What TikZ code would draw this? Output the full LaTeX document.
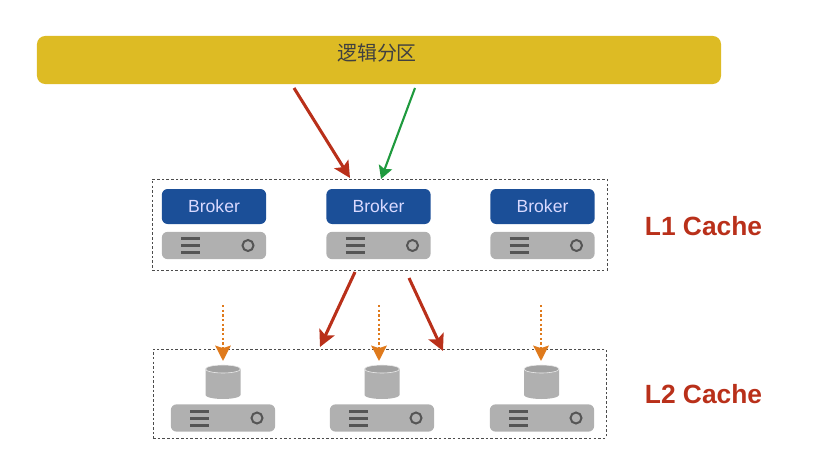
\documentclass[tikz,border=0pt]{standalone}
\usepackage{fontspec}
\setmainfont{Liberation Sans}
\newfontfamily\cjk{Noto Sans CJK SC}
\usepackage{xcolor}
\usepackage{tikz}
\usetikzlibrary{arrows.meta}
\definecolor{barYellow}{HTML}{DDBB24}
\definecolor{brokerBlue}{HTML}{1B4F98}
\definecolor{srvGray}{HTML}{B0B0B0}
\definecolor{iconGray}{HTML}{555555}
\definecolor{arrowRed}{HTML}{B9301A}
\definecolor{arrowGreen}{HTML}{1F9A3E}
\definecolor{arrowOrange}{HTML}{DF7A1C}

\begin{document}
\begin{tikzpicture}[
        x=0.03cm, y=-0.03cm,
        partbar/.style={fill=barYellow, rounded corners=7pt, minimum width=20.52cm, minimum height=1.44cm, inner sep=0pt},
        partname/.style={inner sep=0pt, font=\cjk\fontsize{17}{19}\selectfont, text=black!75},
        group/.style={draw=black!70, dash pattern=on 2.2pt off 1.8pt, line width=0.7pt, inner sep=0pt},
        broker/.style={fill=brokerBlue, rounded corners=5pt, minimum width=3.13cm, minimum height=1.05cm, inner sep=0pt, text=white!85!blue, font=\fontsize{15}{17}\selectfont},
        server/.style={fill=srvGray, rounded corners=5pt, minimum width=3.13cm, minimum height=0.82cm, inner sep=0pt},
        lamp/.style={circle, draw=iconGray, line width=1.7pt, fill=srvGray, minimum size=0.33cm, inner sep=0pt},
        disk/.style={fill=srvGray},
        disktop/.style={fill=srvGray!92!black, draw=white!85!gray, line width=0.5pt},
        bars/.style={iconGray, line width=2.4pt},
        level/.style={text=arrowRed, font=\bfseries\fontsize{22.5}{25}\selectfont},
        redarrow/.style={-{Stealth[length=14pt,width=14pt,inset=3pt]}, line width=2.6pt, arrowRed},
        greenarrow/.style={-{Stealth[length=11pt,width=12pt,inset=2pt]}, line width=1.8pt, arrowGreen},
        orangearrow/.style={-{Stealth[length=13pt,width=13pt,inset=2pt]}, line width=2.4pt, arrowOrange, dash pattern=on 2pt off 2pt}
      ]
        \useasboundingbox (0,0) rectangle (834,476);
        \node[partbar] (part) at (379,60) {};
        \node[partname] (partname) at (377,53) {逻辑分区};

        % L1 layer
        \node[group, minimum width=13.65cm, minimum height=2.73cm] (l1) at (379.5,224.5) {};
        \foreach \x/\n in {214/a, 378.5/b, 542.5/c} {
          \node[broker] (broker\n) at (\x,206.5) {Broker};
          \node[server] (srv\n) at (\x,245.5) {};
          \node[lamp] (lamp\n) at (\x+34,245.5) {};
          \foreach \y in {238.5,245.5,252.5}
            \draw[bars] (\x-33,\y) -- ++(19,0);
        }
        \node[level] (l1name) at (703.5,226) {L1 Cache};

        % L2 layer
        \node[group, minimum width=13.59cm, minimum height=2.67cm] (l2) at (379.5,393.5) {};
        \foreach \x/\c/\n in {223/223/d, 382/382/e, 542/541.5/f} {
          \fill[disk] (\c-17.5,369) -- (\c-17.5,395) arc[start angle=180, end angle=360, x radius=0.525cm, y radius=0.12cm] -- (\c+17.5,369) -- cycle;
          \draw[disktop] (\c,369) ellipse[x radius=0.525cm, y radius=0.12cm];
          \node[server] (srv\n) at (\x,418) {};
          \node[lamp] (lamp\n) at (\x+34,418) {};
          \foreach \y in {411.5,418.5,425.5}
            \draw[bars] (\x-33,\y) -- ++(19,0);
        }
        \node[level] (l2name) at (703.5,394) {L2 Cache};

        % ends of the connectors
        \coordinate (partred) at (294,88);
        \coordinate (partgreen) at (415,88);
        \coordinate (hitred) at (350,178);
        \coordinate (hitgreen) at (381,179);
        \coordinate (outleft) at (355,272);
        \coordinate (outright) at (409,278);
        \coordinate (inleft) at (320,347);
        \coordinate (inright) at (443,351);
        \coordinate (feedd) at (223,305);
        \coordinate (feede) at (379,305);
        \coordinate (feedf) at (541,305);
        \coordinate (topd) at (223,361);
        \coordinate (tope) at (379,361);
        \coordinate (topf) at (541,361);

        \draw[redarrow] (partred) -- (hitred);
        \draw[greenarrow] (partgreen) -- (hitgreen);
        \draw[redarrow] (outleft) -- (inleft);
        \draw[redarrow] (outright) -- (inright);
        \draw[orangearrow] (feedd) -- (topd);
        \draw[orangearrow] (feede) -- (tope);
        \draw[orangearrow] (feedf) -- (topf);
      \end{tikzpicture}
\end{document}
